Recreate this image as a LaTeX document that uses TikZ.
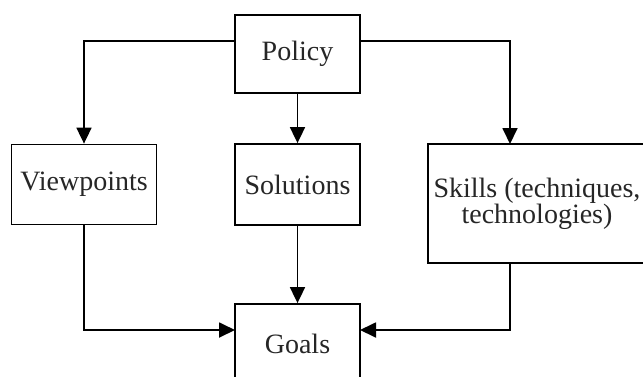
\documentclass[tikz,border=0pt]{standalone}
\usepackage{fontspec}
\setmainfont{Liberation Serif}
\usetikzlibrary{arrows.meta}
\begin{document}
\begin{tikzpicture}[x=1pt,y=-1pt,
  box/.style={draw, line width=1.8pt, inner sep=0pt, align=center,
    font=\fontsize{28}{26}\selectfont, text=black!85},
  arr/.style={line width=1.8pt, -{Triangle[length=16pt,width=15pt]}}]
\useasboundingbox (0,0) rectangle (643,376);
\clip (0,0) rectangle (643,376);
\node[box, minimum width=125pt, minimum height=78pt] (policy) at (297.5,54) {Policy};
\node[box, minimum width=145pt, minimum height=80pt] (view) at (84,184.5) {Viewpoints};
\node[box, minimum width=125pt, minimum height=81pt] (sol) at (297.5,184.5) {Solutions};
\node[box, minimum width=218pt, minimum height=119pt] (skills) at (537,203.5) {Skills (techniques,\\technologies)};
\node[box, minimum width=125pt, minimum height=80pt] (goals) at (297.5,344) {Goals};
\coordinate (pl) at (235,41);
\coordinate (pr) at (360,41);
\coordinate (skt) at (510,144);
\coordinate (skb) at (510,263);
\coordinate (ga) at (235,330);
\coordinate (gb) at (360,330);
\draw[arr] (pl) -| (view.north);
\draw[arr] (pr) -| (skt);
\draw[arr] (policy.south) -- (sol.north);
\draw[arr] (sol.south) -- (goals.north);
\draw[arr] (view.south) |- (ga);
\draw[arr] (skb) |- (gb);
\end{tikzpicture}
\end{document}
